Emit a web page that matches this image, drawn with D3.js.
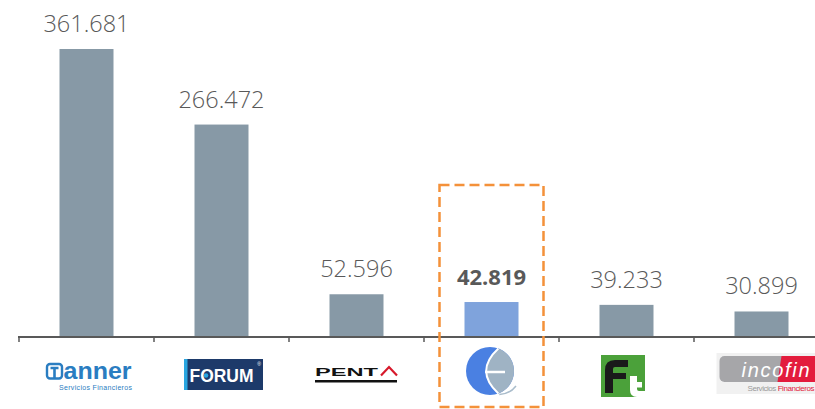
<!DOCTYPE html>
<html><head><meta charset="utf-8">
<script src="https://cdn.jsdelivr.net/npm/d3@7"></script>
<style>body{margin:0;background:#fff}svg{display:block}</style>
</head><body><svg id="c" width="815" height="409"></svg>
<script>
const categories = ["Tanner", "Forum", "Penta", "Eurocapital", "Factotal", "Incofin"];
const values = [361.681, 266.472, 52.596, 42.819, 39.233, 30.899];
const valueLabels = ["361.681", "266.472", "52.596", "42.819", "39.233", "30.899"];
const highlight = "Eurocapital";

const svg = d3.select("#c");
const x = d3.scaleBand().domain(categories).range([19, 829]).paddingInner(0.6).paddingOuter(0.3);
const y = d3.scaleLinear().domain([0, 400]).range([336, 18.6]);
const bw = x.bandwidth();
const cxOf = c => x(c) + bw / 2;

// bars
svg.selectAll("rect.bar").data(categories).join("rect").attr("class", "bar")
  .attr("x", c => x(c)).attr("width", bw)
  .attr("y", (c, i) => y(values[i])).attr("height", (c, i) => y(0) - y(values[i]))
  .attr("fill", c => c === highlight ? "#7fa3dc" : "#8799a6");

// value labels
svg.selectAll("text.val").data(categories).join("text").attr("class", "val")
  .attr("x", c => cxOf(c)).attr("y", (c, i) => y(values[i]) - 17)
  .attr("text-anchor", "middle")
  .attr("font-family", "'Open Sans', sans-serif")
  .attr("font-size", c => c === highlight ? 22 : 23.5)
  .attr("font-weight", c => c === highlight ? 700 : 300)
  .attr("fill", "#595959")
  .text((c, i) => valueLabels[i]);

// axis
const x0 = x.range()[0], step = x.step();
svg.append("line").attr("x1", 18).attr("x2", 815).attr("y1", 337).attr("y2", 337)
  .attr("stroke", "#595959").attr("stroke-width", 2);
svg.selectAll("line.tick").data(d3.range(categories.length + 1)).join("line").attr("class", "tick")
  .attr("x1", i => x0 + i * step).attr("x2", i => x0 + i * step)
  .attr("y1", 336).attr("y2", 342).attr("stroke", "#595959").attr("stroke-width", 1.5);

// highlight box
const hc = cxOf(highlight);
svg.append("rect").attr("x", hc - 52).attr("y", 185).attr("width", 104).attr("height", 222)
  .attr("fill", "none").attr("stroke", "#f4913a").attr("stroke-width", 2.5)
  .attr("stroke-dasharray", "10,5");

const SANS = "'Liberation Sans', Arial, sans-serif";
// logos
const logos = {
  Tanner(g, cx) {
    const c = "#2a7dc1";
    g.append("rect").attr("x", cx - 39.5).attr("y", 364).attr("width", 15).attr("height", 14.5).attr("rx", 3)
      .attr("fill", "none").attr("stroke", c).attr("stroke-width", 2.4);
    g.append("path").attr("d", `M${cx-36} 368 H${cx-28} M${cx-32} 368 V378`).attr("stroke", c).attr("stroke-width", 2.6);
    g.append("text").attr("x", cx - 23).attr("y", 379).attr("font-family", SANS)
      .attr("font-weight", 700).attr("font-size", 24).attr("fill", c)
      .attr("textLength", 68).attr("lengthAdjust", "spacingAndGlyphs").text("anner");
    g.append("text").attr("x", cx - 27.5).attr("y", 389.5).attr("font-family", SANS)
      .attr("font-size", 7).attr("fill", c).attr("textLength", 73).text("Servicios Financieros");
  },
  Forum(g, cx) {
    g.append("rect").attr("x", cx - 37.5).attr("y", 359).attr("width", 79).attr("height", 31).attr("fill", "#1d3a6a");
    g.append("rect").attr("x", cx - 37.5).attr("y", 359).attr("width", 3.5).attr("height", 31).attr("fill", "#2aa6e0");
    g.append("text").attr("x", cx - 32).attr("y", 382).attr("font-family", SANS)
      .attr("font-weight", 700).attr("font-size", 18).attr("fill", "#fff")
      .attr("textLength", 64).attr("lengthAdjust", "spacingAndGlyphs").text("FORUM");
    g.append("circle").attr("cx", cx - 15.5).attr("cy", 375.5).attr("r", 2.3).attr("fill", "#2aa6e0");
    g.append("text").attr("x", cx + 39.5).attr("y", 366).attr("text-anchor", "end").attr("font-size", 5)
      .attr("font-family", SANS).attr("fill", "#fff").text("®");
  },
  Penta(g, cx) {
    g.append("text").attr("x", cx - 41.5).attr("y", 375.5).attr("font-family", SANS)
      .attr("font-weight", 700).attr("font-size", 11.8).attr("fill", "#111")
      .attr("textLength", 63).attr("lengthAdjust", "spacingAndGlyphs").text("PENT");
    g.append("path").attr("d", `M${cx+24.5} 375.5 L${cx+32.5} 367 L${cx+40.5} 375.5`).attr("fill", "none")
      .attr("stroke", "#d7192b").attr("stroke-width", 2.2);
    g.append("rect").attr("x", cx - 41.5).attr("y", 380).attr("width", 82).attr("height", 2.5).attr("fill", "#111");
  },
  Eurocapital(g, cx) {
    const ox = cx - 1.5, oy = 371, r = 24;
    g.append("circle").attr("cx", ox).attr("cy", oy).attr("r", r).attr("fill", "#4a80e2");
    const ty = oy - 22.5, dx = Math.sqrt(r * r - 22.5 * 22.5);
    g.append("path").attr("d", `M${ox+dx} ${ty} A${r} ${r} 0 0 1 ${ox+dx} ${oy+22.5} Q${ox-16} ${oy} ${ox+dx} ${ty} Z`)
      .attr("fill", "#9fb3c4");
    g.append("path").attr("d", `M${ox+dx} ${ty} Q${ox-16} ${oy} ${ox+dx} ${oy+22.5}`).attr("fill", "none")
      .attr("stroke", "#fff").attr("stroke-width", 2);
    g.append("path").attr("d", `M${ox-5} ${oy+1} H${ox+15}`).attr("stroke", "#fff").attr("stroke-width", 2.5);
    g.append("path").attr("d", `M${ox+dx+1} ${oy+23.5} Q${ox+20} ${oy+23} ${ox+26} ${oy+15}`).attr("fill", "none")
      .attr("stroke", "#a9bccb").attr("stroke-width", 1.5);
  },
  Factotal(g, cx) {
    const l = cx - 25.5;
    g.append("rect").attr("x", l).attr("y", 355).attr("width", 44).attr("height", 42).attr("fill", "#4ba13a");
    g.append("path").attr("d", `M${l+4} 393 V370 Q${l+4} 360 ${l+14} 360 H${l+27} V367 H${l+14} Q${l+12} 367 ${l+12} 369 V373 H${l+25} V379 H${l+12} V393 Z`)
      .attr("fill", "#1a1a1a");
    g.append("path").attr("d", `M${l+29} 376 H${l+36} V382 H${l+41} V387.5 H${l+36} V389 Q${l+36} 391 ${l+38} 391 H${l+44} V397 H${l+36} Q${l+29} 397 ${l+29} 390 Z`)
      .attr("fill", "#fff");
  },
  Incofin(g, cx) {
    g.append("rect").attr("x", cx - 45).attr("y", 353).attr("width", 100).attr("height", 41).attr("fill", "#f1f1f1");
    g.append("rect").attr("x", cx - 42).attr("y", 356).attr("width", 100).attr("height", 26).attr("rx", 5).attr("fill", "#a6a6a9");
    g.append("path").attr("d", `M${cx+20} 356 H${cx+60} V382 H${cx+16} Z`).attr("fill", "#e31c3d");
    g.append("text").attr("x", cx - 20).attr("y", 377).attr("font-family", SANS)
      .attr("font-style", "italic").attr("font-size", 20).attr("fill", "#fff").attr("textLength", 68).text("incofin");
    const t = g.append("text").attr("x", cx - 14).attr("y", 391).attr("font-family", SANS)
      .attr("font-size", 8).attr("textLength", 67);
    t.append("tspan").attr("fill", "#9a9a9a").text("Servicios ");
    t.append("tspan").attr("fill", "#e31c3d").text("Financieros");
  }
};
categories.forEach(c => logos[c](svg.append("g"), cxOf(c)));
</script>
</body></html>
